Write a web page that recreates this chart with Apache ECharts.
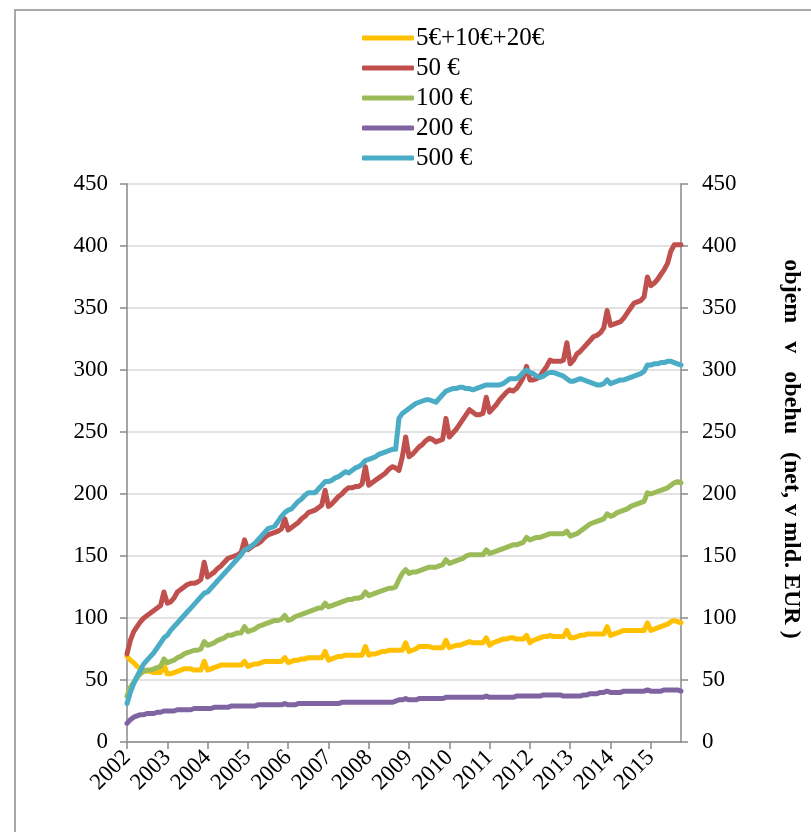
<!DOCTYPE html>
<html>
<head>
<meta charset="utf-8">
<script src="https://cdn.jsdelivr.net/npm/echarts@6/dist/echarts.min.js"></script>
<style>
html,body{margin:0;padding:0;background:#fff;}
#chart{width:811px;height:832px;}
</style>
</head>
<body>
<div id="chart"></div>
<script>
// Years shown on the x axis (monthly data Jan 2002 - Oct 2015)
const years = ['2002','2003','2004','2005','2006','2007','2008','2009','2010','2011','2012','2013','2014','2015'];
const lastYearMonths = 10;

const seriesNames = ['5€+10€+20€', '50 €', '100 €', '200 €', '500 €'];
const seriesColors = ['#FFC000', '#C0504D', '#9BBB59', '#8064A2', '#4BACC6'];

// 5€+10€+20€
const small = [
  69, 66, 64, 61, 59, 58, 57, 57, 56, 56, 56, 62,
  55, 55, 56, 57, 58, 59, 59, 59, 58, 58, 58, 65,
  58, 59, 60, 61, 62, 62, 62, 62, 62, 62, 62, 65,
  61, 62, 63, 63, 64, 65, 65, 65, 65, 65, 65, 68,
  64, 65, 66, 66, 67, 67, 68, 68, 68, 68, 68, 73,
  66, 67, 68, 69, 69, 70, 70, 70, 70, 70, 70, 77,
  70, 71, 71, 72, 73, 73, 74, 74, 74, 74, 74, 80,
  73, 74, 75, 77, 77, 77, 77, 76, 76, 76, 76, 82,
  76, 77, 78, 78, 79, 80, 81, 80, 80, 80, 80, 84,
  78, 80, 81, 82, 83, 83, 84, 84, 83, 83, 83, 86,
  80, 82, 83, 84, 85, 85, 86, 85, 85, 85, 85, 90,
  84, 84, 85, 86, 86, 87, 87, 87, 87, 87, 87, 93,
  86, 87, 88, 89, 90, 90, 90, 90, 90, 90, 90, 96,
  90, 91, 92, 93, 94, 95, 97, 98, 97, 96
];

// 50 €
const fifty = [
  71, 82, 89, 93, 97, 100, 102, 104, 106, 108, 110, 121,
  112, 113, 116, 121, 123, 125, 127, 128, 128, 129, 131, 145,
  133, 135, 137, 140, 142, 145, 148, 149, 150, 151, 153, 163,
  155, 157, 159, 160, 162, 165, 167, 168, 169, 170, 172, 180,
  171, 173, 175, 177, 180, 182, 185, 186, 187, 189, 191, 203,
  190, 192, 195, 198, 200, 203, 205, 205, 206, 206, 208, 222,
  207, 209, 211, 213, 215, 217, 220, 222, 221, 219, 230, 246,
  230, 232, 235, 238, 240, 243, 245, 244, 242, 243, 244, 261,
  246, 249, 252, 256, 260, 264, 268, 266, 264, 264, 265, 278,
  266, 269, 272, 276, 279, 282, 284, 283, 285, 289, 294, 303,
  292, 292, 293, 295, 299, 303, 308, 307, 307, 307, 308, 322,
  305, 308, 313, 315, 318, 321, 324, 327, 328, 330, 334, 348,
  336, 337, 338, 339, 342, 346, 350, 354, 355, 356, 359, 375,
  368, 370, 373, 377, 381, 386, 396, 401, 401, 401
];

// 100 €
const hundred = [
  37, 44, 48, 52, 55, 57, 58, 58, 59, 60, 61, 67,
  64, 65, 66, 68, 69, 71, 72, 73, 74, 74, 75, 81,
  78, 79, 80, 82, 83, 84, 86, 86, 87, 88, 88, 93,
  89, 90, 91, 93, 94, 95, 96, 97, 98, 98, 99, 102,
  98, 99, 101, 102, 103, 104, 105, 106, 107, 108, 108, 112,
  109, 110, 111, 112, 113, 114, 115, 115, 116, 116, 117, 121,
  118, 119, 120, 121, 122, 123, 124, 124, 125, 131, 136, 139,
  136, 137, 137, 138, 139, 140, 141, 141, 141, 142, 143, 147,
  144, 145, 146, 147, 148, 150, 151, 151, 151, 151, 151, 155,
  152, 153, 154, 155, 156, 157, 158, 159, 159, 160, 161, 165,
  163, 164, 165, 165, 166, 167, 168, 168, 168, 168, 168, 170,
  166, 167, 168, 170, 172, 174, 176, 177, 178, 179, 180, 184,
  182, 183, 185, 186, 187, 188, 190, 191, 192, 193, 194, 201,
  200, 201, 202, 203, 204, 205, 207, 209, 210, 209
];

// 200 €
const twoHundred = [
  15, 18, 20, 21, 22, 22, 23, 23, 23, 24, 24, 25,
  25, 25, 25, 26, 26, 26, 26, 26, 27, 27, 27, 27,
  27, 27, 28, 28, 28, 28, 28, 29, 29, 29, 29, 29,
  29, 29, 29, 30, 30, 30, 30, 30, 30, 30, 30, 31,
  30, 30, 30, 31, 31, 31, 31, 31, 31, 31, 31, 31,
  31, 31, 31, 31, 32, 32, 32, 32, 32, 32, 32, 32,
  32, 32, 32, 32, 32, 32, 32, 32, 33, 34, 34, 35,
  34, 34, 34, 35, 35, 35, 35, 35, 35, 35, 35, 36,
  36, 36, 36, 36, 36, 36, 36, 36, 36, 36, 36, 37,
  36, 36, 36, 36, 36, 36, 36, 36, 37, 37, 37, 37,
  37, 37, 37, 37, 38, 38, 38, 38, 38, 38, 37, 37,
  37, 37, 37, 37, 38, 38, 39, 39, 39, 40, 40, 41,
  40, 40, 40, 40, 41, 41, 41, 41, 41, 41, 41, 42,
  41, 41, 41, 41, 42, 42, 42, 42, 42, 41
];

// 500 €
const fiveHundred = [
  31, 40, 47, 53, 58, 63, 66, 69, 72, 76, 80, 84,
  86, 90, 93, 96, 99, 102, 105, 108, 111, 114, 117, 120,
  121, 124, 127, 130, 133, 136, 139, 142, 145, 148, 151, 155,
  156, 158, 160, 163, 166, 169, 172, 173, 174, 178, 182, 185,
  187, 188, 191, 194, 196, 199, 201, 201, 201, 204, 207, 210,
  210, 211, 213, 214, 216, 218, 217, 219, 221, 222, 224, 227,
  228, 229, 230, 232, 233, 234, 235, 236, 236, 261, 265, 267,
  269, 271, 273, 274, 275, 276, 276, 275, 274, 277, 280, 283,
  284, 285, 285, 286, 286, 285, 285, 284, 285, 286, 287, 288,
  288, 288, 288, 288, 289, 291, 293, 293, 293, 295, 298, 300,
  298, 297, 295, 294, 295, 297, 298, 298, 297, 296, 295, 293,
  291, 291, 292, 293, 292, 291, 290, 289, 288, 288, 289, 292,
  289, 290, 291, 292, 292, 293, 294, 295, 296, 297, 299, 304,
  304, 305, 305, 306, 306, 307, 307, 306, 305, 304
];

const yTicks = { min: 0, max: 450, interval: 50 };

const categories = [];
years.forEach((y, yi) => {
  const n = yi === years.length - 1 ? lastYearMonths : 12;
  for (let m = 1; m <= n; m++) categories.push(y + '-' + (m < 10 ? '0' + m : m));
});

const serif = '"Liberation Serif", "Times New Roman", serif';
const allData = [small, fifty, hundred, twoHundred, fiveHundred];

const chart = echarts.init(document.getElementById('chart'), null, { renderer: 'canvas' });
chart.setOption({
  backgroundColor: '#fff',
  animation: false,
  graphic: [{
    type: 'rect',
    shape: { x: 15, y: 10, width: 900, height: 900 },
    style: { fill: 'none', stroke: '#8c8c8c', lineWidth: 1.5 },
    silent: true
  }],
  legend: {
    orient: 'vertical',
    left: 357,
    top: 20,
    itemWidth: 52,
    itemHeight: 5,
    itemGap: 4,
    icon: 'roundRect',
    textStyle: { fontFamily: serif, fontSize: 25, color: '#000', padding: [0, 0, 0, -3], lineHeight: 26 },
    data: seriesNames
  },
  grid: { left: 127, right: 126, top: 184, bottom: 90, containLabel: false },
  xAxis: {
    type: 'category',
    data: categories,
    boundaryGap: false,
    axisLine: { lineStyle: { color: '#898989', width: 1.5 } },
    axisTick: {
      interval: (i) => i % 12 === 0,
      length: 7,
      lineStyle: { color: '#898989', width: 1.5 }
    },
    axisLabel: {
      interval: (i) => i % 12 === 0,
      formatter: (v) => v.slice(0, 4),
      rotate: 45,
      margin: 12,
      fontFamily: serif,
      fontSize: 23,
      color: '#000'
    },
    splitLine: { show: false }
  },
  yAxis: [
    {
      type: 'value',
      position: 'left',
      min: yTicks.min, max: yTicks.max, interval: yTicks.interval,
      axisLine: { show: true, lineStyle: { color: '#898989', width: 1.5 } },
      axisTick: { show: true, length: 7, lineStyle: { color: '#898989', width: 1.5 } },
      axisLabel: { margin: 19, fontFamily: serif, fontSize: 23, color: '#000' },
      splitLine: { show: true, lineStyle: { color: '#d9d9d9', width: 1.5 } }
    },
    {
      type: 'value',
      position: 'right',
      min: yTicks.min, max: yTicks.max, interval: yTicks.interval,
      name: 'objem   v   obehu   (net, v mld. EUR )',
      nameLocation: 'middle',
      nameRotate: -90,
      nameGap: 98,
      nameTextStyle: { fontFamily: serif, fontSize: 24, fontWeight: 'bold', color: '#000', padding: [0, 28, 0, 0] },
      axisLine: { show: true, lineStyle: { color: '#898989', width: 1.5 } },
      axisTick: { show: true, length: 7, lineStyle: { color: '#898989', width: 1.5 } },
      axisLabel: { margin: 21, fontFamily: serif, fontSize: 23, color: '#000' },
      splitLine: { show: false }
    }
  ],
  series: seriesNames.map((name, k) => ({
    name: name,
    type: 'line',
    data: allData[k],
    yAxisIndex: 0,
    showSymbol: false,
    symbol: 'none',
    color: seriesColors[k],
    lineStyle: { width: 5, color: seriesColors[k], cap: 'round', join: 'round' }
  }))
});
</script>
</body>
</html>
